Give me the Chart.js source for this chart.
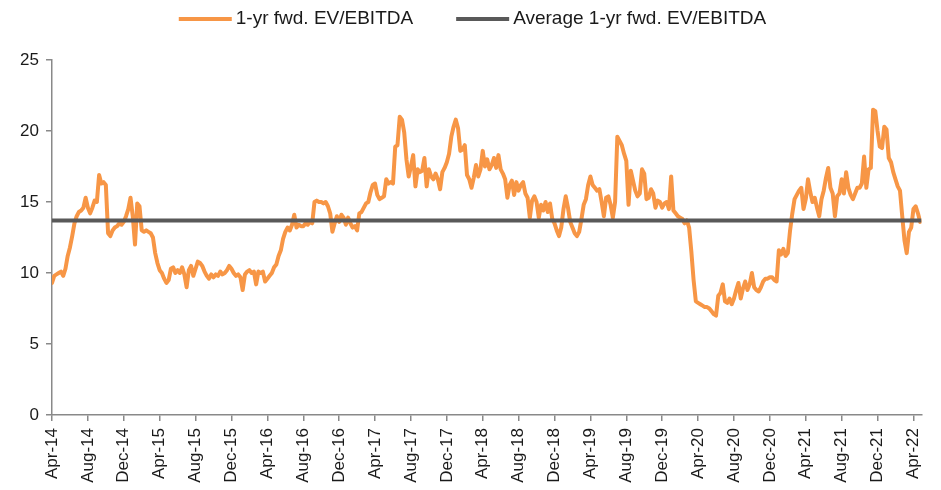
<!DOCTYPE html>
<html>
<head>
<meta charset="utf-8">
<title>1-yr fwd. EV/EBITDA</title>
<script src="https://cdn.jsdelivr.net/npm/chart.js@4.4.1/dist/chart.umd.min.js"></script>
<style>
  html, body { margin: 0; padding: 0; background: #ffffff; }
  #wrap { width: 941px; height: 490px; }
</style>
</head>
<body>
<div id="wrap"><canvas id="chart" width="941" height="490"></canvas></div>
<script>
// Axis labels, one every four months starting Apr-14
const tickLabels = [
  'Apr-14', 'Aug-14', 'Dec-14', 'Apr-15', 'Aug-15', 'Dec-15', 'Apr-16',
  'Aug-16', 'Dec-16', 'Apr-17', 'Aug-17', 'Dec-17', 'Apr-18', 'Aug-18',
  'Dec-18', 'Apr-19', 'Aug-19', 'Dec-19', 'Apr-20', 'Aug-20', 'Dec-20',
  'Apr-21', 'Aug-21', 'Dec-21', 'Apr-22'
];

const seriesNames = ['1-yr fwd. EV/EBITDA', 'Average 1-yr fwd. EV/EBITDA'];

// Roughly weekly observations: four per month, first month Apr-14
const pointsPerMonth = 4;
const evEbitda = [
  // 2014 (Apr-Dec)
  9.3, 9.8, 9.9, 10.0,   10.1, 9.8, 10.3, 11.2,   11.8, 12.6, 13.5, 14.0,
  14.3, 14.4, 14.6, 15.3,   14.6, 14.2, 14.6, 15.1,   15.0, 16.9, 16.3, 16.4,
  16.2, 12.8, 12.6, 13.0,   13.2, 13.3, 13.5, 13.4,   13.6, 14.0, 14.5, 15.3,
  // 2015
  14.0, 12.0, 14.9, 14.7,   13.0, 12.9, 13.0, 12.9,   12.8, 12.5, 11.4, 10.7,
  10.2, 10.0, 9.6, 9.3,   9.5, 10.3, 10.4, 10.0,   10.2, 10.0, 10.4, 9.9,
  9.0, 10.2, 10.5, 9.8,   10.3, 10.8, 10.7, 10.5,   10.1, 9.8, 9.6, 9.9,
  9.7, 9.9, 9.8, 10.1,   9.9, 10.0, 10.2, 10.5,   10.3, 10.0, 9.8, 9.9,
  // 2016
  9.7, 8.8, 9.9, 10.1,   10.2, 10.0, 10.1, 9.2,   10.1, 10.0, 10.1, 9.4,
  9.6, 9.8, 10.0, 10.4,   10.6, 11.2, 11.6, 12.4,   12.9, 13.2, 13.0, 13.4,
  14.1, 13.2, 13.4, 13.3,   13.3, 13.5, 13.4, 13.6,   13.5, 15.0, 15.1, 15.0,
  15.0, 14.9, 15.0, 14.7,   14.2, 12.9, 13.5, 14.0,   13.6, 14.1, 13.9, 13.4,
  // 2017
  13.9, 13.5, 13.2, 13.3,   13.0, 14.2, 14.3, 14.6,   14.9, 15.0, 15.7, 16.2,
  16.3, 15.5, 15.2, 15.3,   15.4, 16.6, 16.3, 16.4,   16.3, 18.9, 19.0, 21.0,
  20.8, 19.9, 18.0, 16.8,   17.5, 18.3, 16.1, 17.3,   17.1, 17.2, 18.1, 16.1,
  17.3, 16.8, 16.6, 17.0,   16.6, 15.9, 17.1, 17.4,   17.8, 18.4, 19.6, 20.3,
  // 2018
  20.8, 20.2, 18.6, 18.7,   19.0, 16.9, 16.6, 16.0,   16.7, 17.6, 16.8, 17.3,
  18.6, 17.5, 18.0, 17.3,   17.6, 18.1, 17.4, 18.3,   17.3, 17.0, 16.6, 15.3,
  16.2, 16.5, 15.5, 16.4,   15.8, 16.2, 16.4, 15.6,   15.3, 13.9, 15.1, 15.4,
  15.0, 13.9, 14.8, 14.4,   15.0, 14.3, 14.9, 13.8,   13.5, 13.0, 12.6, 13.2,
  // 2019
  14.5, 15.4, 14.6, 13.6,   13.2, 12.8, 12.6, 12.9,   13.8, 14.8, 15.2, 16.2,
  16.8, 16.2, 16.0, 15.8,   15.9, 15.0, 14.0, 15.3,   15.4, 14.8, 13.9, 15.0,
  19.6, 19.3, 19.0, 18.4,   17.9, 14.8, 17.2, 16.5,   15.8, 15.4, 15.6, 17.3,
  17.0, 15.2, 15.3, 15.9,   15.6, 14.6, 15.1, 15.0,   14.6, 14.9, 15.0, 14.5,
  // 2020
  16.8, 14.4, 14.2, 14.0,   13.9, 13.8, 13.5, 13.7,   13.2, 11.5, 9.5, 8.0,
  7.9, 7.8, 7.7, 7.6,   7.6, 7.5, 7.3, 7.1,   7.0, 8.4, 8.6, 9.2,
  8.0, 7.9, 8.2, 7.8,   8.2, 8.8, 9.3, 8.2,   8.9, 9.4, 8.8, 9.2,
  10.0, 9.0, 8.8, 8.7,   9.0, 9.4, 9.6, 9.6,   9.7, 9.7, 9.5, 9.4,
  // 2021
  11.6, 11.3, 11.7, 11.2,   11.4, 13.0, 14.2, 15.2,   15.5, 15.8, 16.0, 14.5,
  15.2, 16.6, 15.7, 15.0,   15.3, 14.6, 14.0, 15.2,   15.8, 16.7, 17.4, 16.0,
  15.6, 14.0, 15.4, 15.6,   16.6, 15.6, 17.1, 16.0,   15.5, 15.2, 15.6, 16.0,
  16.0, 16.3, 18.2, 16.0,   17.3, 17.4, 21.5, 21.4,   20.0, 18.9, 18.8, 20.3,
  // 2022 (Jan-Apr)
  20.1, 18.1, 17.8, 17.1,   16.6, 16.1, 15.8, 14.0,   12.3, 11.4, 12.9, 13.2,
  14.5, 14.7, 14.2, 13.6
];

const averageMultiple = 13.7;

// x is measured in months since the start of Apr-14
const seriesPoints = evEbitda.map((v, i) => ({ x: i / pointsPerMonth, y: v }));
const monthSpan = 96.9;
const averagePoints = [{ x: 0, y: averageMultiple }, { x: monthSpan, y: averageMultiple }];

// Legend drawn as a single centred row of line swatches
const seriesKey = {
  id: 'seriesKey',
  afterDraw(chart, args, opts) {
    const ctx = chart.ctx;
    ctx.save();
    ctx.font = opts.font;
    ctx.textBaseline = 'middle';
    const items = chart.data.datasets.map(ds => ({ text: ds.label, color: ds.borderColor }));
    const widths = items.map(it => opts.swatch + opts.textGap + ctx.measureText(it.text).width);
    const total = widths.reduce((a, b) => a + b, 0) + opts.itemGap * (items.length - 1);
    let x = (chart.width - total) / 2 + opts.shift;
    items.forEach((it, i) => {
      ctx.fillStyle = it.color;
      ctx.fillRect(x, opts.y - opts.thickness / 2, opts.swatch, opts.thickness);
      ctx.fillStyle = opts.color;
      ctx.fillText(it.text, x + opts.swatch + opts.textGap, opts.y);
      x += widths[i] + opts.itemGap;
    });
    ctx.restore();
  }
};

const axisGrey = '#898989';
const tickFont = { family: "'Liberation Sans', Arial, sans-serif", size: 17 };

new Chart(document.getElementById('chart'), {
  type: 'line',
  data: {
    datasets: [
      {
        label: seriesNames[0],
        data: seriesPoints,
        borderColor: '#F79646',
        borderWidth: 4,
        pointRadius: 0,
        tension: 0,
        borderJoinStyle: 'round',
        borderCapStyle: 'round',
        order: 1
      },
      {
        label: seriesNames[1],
        data: averagePoints,
        borderColor: '#595959',
        borderWidth: 4,
        pointRadius: 0,
        tension: 0,
        order: 0
      }
    ]
  },
  options: {
    responsive: false,
    animation: false,
    devicePixelRatio: 1,
    layout: { padding: { top: 60, right: 16, left: 0, bottom: 0 } },
    plugins: {
      legend: { display: false },
      tooltip: { enabled: false },
      seriesKey: {
        font: "19px 'Liberation Sans', Arial, sans-serif",
        color: '#1a1a1a',
        swatch: 53,
        thickness: 4,
        textGap: 4,
        itemGap: 43,
        y: 19,
        shift: 2
      }
    },
    scales: {
      x: {
        type: 'linear',
        min: 0,
        max: monthSpan,
        border: { display: true, color: axisGrey, width: 1.5 },
        grid: { drawOnChartArea: false, drawTicks: true, tickLength: 6, color: axisGrey, lineWidth: 1.5 },
        ticks: {
          stepSize: 4,
          includeBounds: false,
          autoSkip: false,
          maxRotation: 90,
          minRotation: 90,
          padding: 7,
          color: '#1a1a1a',
          font: tickFont,
          callback: (value) => {
            const idx = Math.round(value / 4);
            return Math.abs(value - idx * 4) < 1e-6 ? tickLabels[idx] : '';
          }
        },
        afterFit: (scale) => { scale.height = 75; }
      },
      y: {
        min: 0,
        max: 25,
        border: { display: true, color: axisGrey, width: 1.5 },
        grid: { drawOnChartArea: false, drawTicks: true, tickLength: 6, color: axisGrey, lineWidth: 1.5 },
        ticks: {
          stepSize: 5,
          padding: 7,
          color: '#1a1a1a',
          font: tickFont
        },
        afterFit: (scale) => { scale.width = 52; }
      }
    }
  },
  plugins: [seriesKey]
});
</script>
</body>
</html>
